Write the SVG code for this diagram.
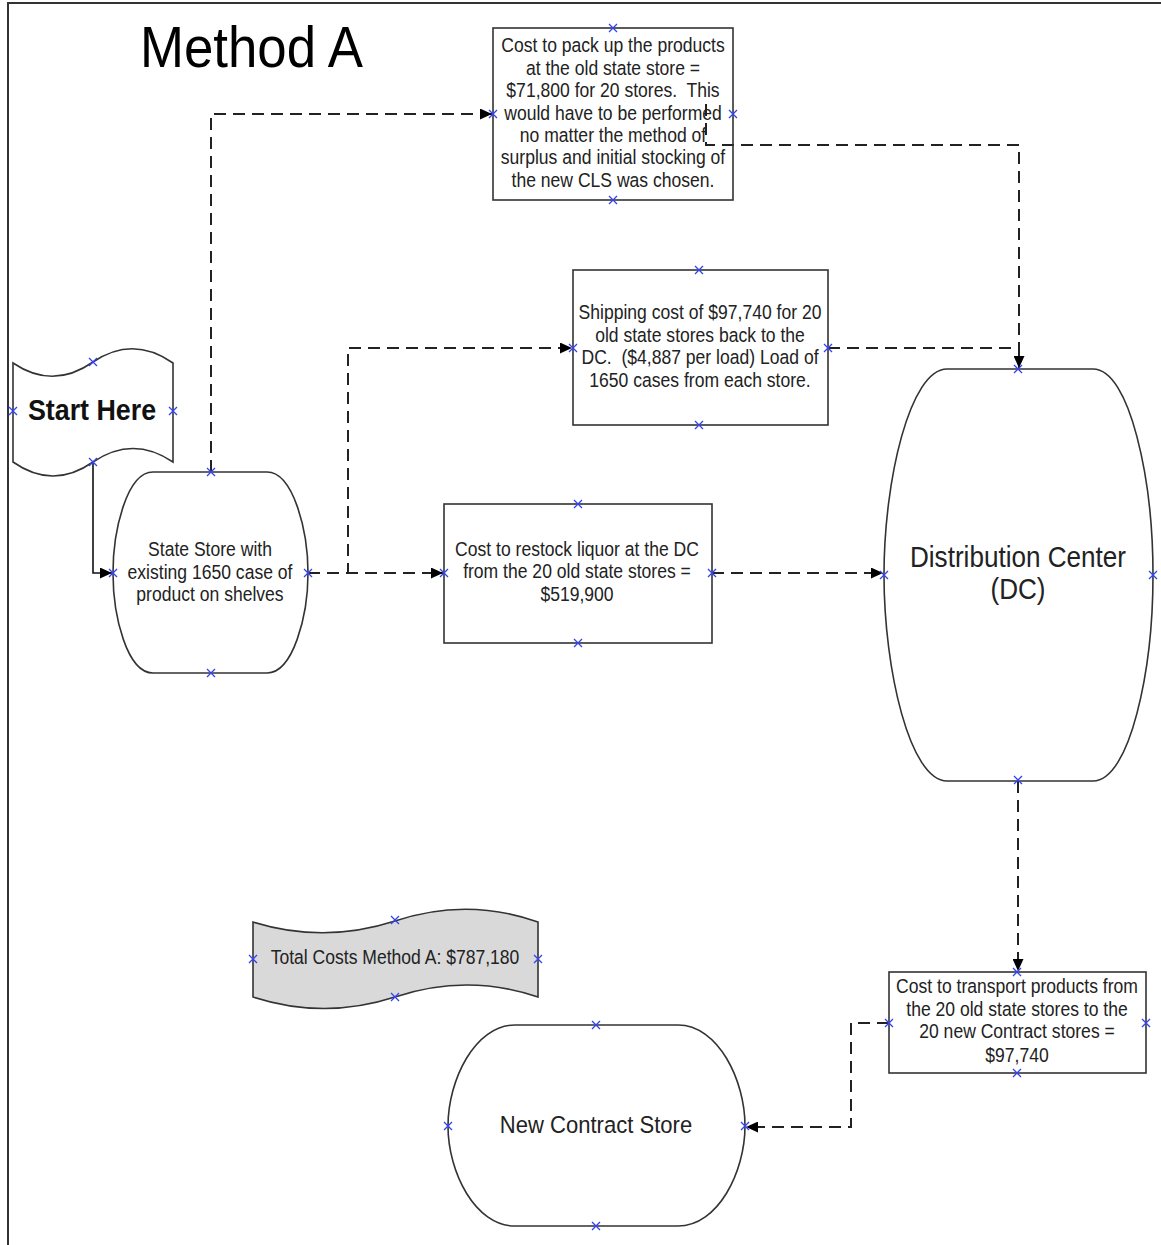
<svg xmlns="http://www.w3.org/2000/svg" width="1161" height="1245" viewBox="0 0 1161 1245">
<style>
.t{font-family:"Liberation Sans",Arial,sans-serif;font-size:19.5px;fill:#222;text-anchor:middle;white-space:pre}
.shape{fill:#fff;stroke:#333;stroke-width:1.6}
.solid{fill:none;stroke:#111;stroke-width:1.6}
.dash{fill:none;stroke:#222;stroke-width:2;stroke-dasharray:12 7}
.cp{fill:none;stroke:#3344ee;stroke-width:1.3}
</style>
<defs>
<marker id="arr" markerUnits="userSpaceOnUse" markerWidth="13" markerHeight="11" refX="12" refY="5.5" orient="auto">
<path d="M0,0 L12,5.5 L0,11 Z" fill="#000"/>
</marker>
<path id="x" d="M-4,-4 L4,4 M-4,4 L4,-4"/>
</defs>
<rect width="1161" height="1245" fill="#fff"/>
<path d="M8,1245 V3 H1161" fill="none" stroke="#333" stroke-width="2"/>
<text class="t" transform="translate(140 0) scale(0.91 1)" x="0" y="67" style="font-size:58px;text-anchor:start;fill:#000">Method A</text>

<g id="connectors">
<path class="solid" d="M93,462 V573 H112" marker-end="url(#arr)"/>
<path class="dash" d="M211,472 V114 H492" marker-end="url(#arr)" stroke="#555"/>
<path class="dash" d="M308,573 H348 V348 H572" marker-end="url(#arr)"/>
<path class="dash" d="M308,573 H443" marker-end="url(#arr)"/>
<path class="dash" d="M828,348 H1019 V368" marker-end="url(#arr)"/>
<path class="dash" d="M706,104 V145 H1019 V348"/>
<path class="dash" d="M712,573 H883" marker-end="url(#arr)"/>
<path class="dash" d="M1018,781 V971" marker-end="url(#arr)"/>
<path class="dash" d="M889,1023 H851 V1127 H746" marker-end="url(#arr)"/>
</g>

<g id="pack-box">
<rect class="shape" x="493" y="28" width="240" height="172" fill-opacity="0"/>
<text class="t" transform="translate(613 0) scale(0.9 1)"><tspan x="0" y="52">Cost to pack up the products</tspan><tspan x="0" y="75">at the old state store =</tspan><tspan x="0" y="97">$71,800 for 20 stores.  This</tspan><tspan x="0" y="120">would have to be performed</tspan><tspan x="0" y="142">no matter the method of</tspan><tspan x="0" y="164">surplus and initial stocking of</tspan><tspan x="0" y="187">the new CLS was chosen.</tspan></text>
</g>

<g id="start-here">
<path class="shape" d="M13,363 Q53,390 93,362 Q133,335 173,363 V462 Q133,435 93,462 Q53,490 13,462 Z"/>
<text class="t" transform="translate(92 0) scale(0.91 1)" x="0" y="420" style="font-size:29.5px;font-weight:bold;fill:#111">Start Here</text>
</g>

<g id="state-store">
<path class="shape" d="M153,472 H267 C293,472 308,530 308,573 C308,616 293,673 267,673 H153 C127,673 113,616 113,573 C113,530 127,472 153,472 Z"/>
<text class="t" transform="translate(210 0) scale(0.9 1)"><tspan x="0" y="556">State Store with</tspan><tspan x="0" y="579">existing 1650 case of</tspan><tspan x="0" y="601">product on shelves</tspan></text>
</g>

<g id="shipping-box">
<rect class="shape" x="573" y="270" width="255" height="155"/>
<text class="t" transform="translate(700 0) scale(0.9 1)"><tspan x="0" y="319">Shipping cost of $97,740 for 20</tspan><tspan x="0" y="342">old state stores back to the</tspan><tspan x="0" y="364">DC.  ($4,887 per load) Load of</tspan><tspan x="0" y="387">1650 cases from each store.</tspan></text>
</g>

<g id="restock-box">
<rect class="shape" x="444" y="504" width="268" height="139"/>
<text class="t" transform="translate(577 0) scale(0.9 1)"><tspan x="0" y="556">Cost to restock liquor at the DC</tspan><tspan x="0" y="578">from the 20 old state stores =</tspan><tspan x="0" y="601">$519,900</tspan></text>
</g>

<g id="distribution-center">
<path class="shape" d="M947,369 H1093 C1130,369 1153,480 1153,575 C1153,670 1130,781 1093,781 H947 C910,781 884,670 884,575 C884,480 910,369 947,369 Z"/>
<text class="t" transform="translate(1018 0) scale(0.9 1)" style="font-size:29px"><tspan x="0" y="567">Distribution Center</tspan><tspan x="0" y="599">(DC)</tspan></text>
</g>

<g id="total-costs">
<path class="shape" d="M253,922 Q324,944 395,921 Q467,897 538,922 V997 Q467,973 395,997 Q324,1020 253,997 Z" style="fill:#d9d9d9"/>
<text class="t" transform="translate(395 0) scale(0.9 1)" x="0" y="964">Total Costs Method A: $787,180</text>
</g>

<g id="transport-box">
<rect class="shape" x="889" y="972" width="257" height="101"/>
<text class="t" transform="translate(1017 0) scale(0.9 1)"><tspan x="0" y="993">Cost to transport products from</tspan><tspan x="0" y="1016">the 20 old state stores to the</tspan><tspan x="0" y="1038">20 new Contract stores =</tspan><tspan x="0" y="1062">$97,740</tspan></text>
</g>

<g id="new-contract-store">
<path class="shape" d="M515,1025 H678 C718,1025 745,1080 745,1126 C745,1172 718,1226 678,1226 H515 C475,1226 448,1172 448,1126 C448,1080 475,1025 515,1025 Z"/>
<text class="t" transform="translate(596 0) scale(0.9 1)" x="0" y="1133" style="font-size:24.5px">New Contract Store</text>
</g>

<g id="connection-points" class="cp">
<use href="#x" x="613" y="28"/><use href="#x" x="493" y="114"/><use href="#x" x="733" y="114"/><use href="#x" x="613" y="200"/>
<use href="#x" x="93" y="362"/><use href="#x" x="13" y="411"/><use href="#x" x="173" y="411"/><use href="#x" x="93" y="462"/>
<use href="#x" x="211" y="472"/><use href="#x" x="113" y="573"/><use href="#x" x="308" y="573"/><use href="#x" x="211" y="673"/>
<use href="#x" x="699" y="270"/><use href="#x" x="573" y="348"/><use href="#x" x="828" y="348"/><use href="#x" x="699" y="425"/>
<use href="#x" x="578" y="504"/><use href="#x" x="444" y="573"/><use href="#x" x="712" y="573"/><use href="#x" x="578" y="643"/>
<use href="#x" x="1018" y="369"/><use href="#x" x="884" y="575"/><use href="#x" x="1153" y="575"/><use href="#x" x="1018" y="780"/>
<use href="#x" x="395" y="920"/><use href="#x" x="253" y="959"/><use href="#x" x="538" y="959"/><use href="#x" x="395" y="997"/>
<use href="#x" x="1017" y="972"/><use href="#x" x="889" y="1023"/><use href="#x" x="1146" y="1023"/><use href="#x" x="1017" y="1073"/>
<use href="#x" x="596" y="1025"/><use href="#x" x="448" y="1126"/><use href="#x" x="745" y="1126"/><use href="#x" x="596" y="1226"/>
</g>
</svg>
